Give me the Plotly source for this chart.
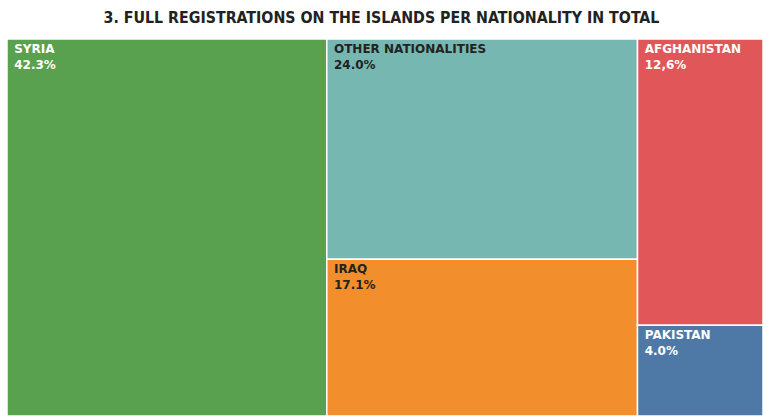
import plotly.graph_objects as go

# Data
nationalities = ["SYRIA", "OTHER NATIONALITIES", "IRAQ", "AFGHANISTAN", "PAKISTAN"]
shares = [42.3, 24.0, 17.1, 12.6, 4.0]
share_labels = ["42.3%", "24.0%", "17.1%", "12,6%", "4.0%"]
column_group = ["g1", "g2", "g2", "g3", "g3"]
colors = ["#59a14f", "#76b7b2", "#f28e2b", "#e15759", "#4e79a7"]
text_colors = ["#ffffff", "#222222", "#222222", "#ffffff", "#ffffff"]

groups = ["g1", "g2", "g3"]
group_values = [sum(v for v, g in zip(shares, column_group) if g == grp) for grp in groups]

NB = "\u00a0"
ids = groups + nationalities
labels = [" "] * len(groups) + nationalities
parents = [""] * len(groups) + column_group
values = group_values + shares
texttemplates = [" "] * len(groups) + [
    "<b>" + NB + "%{label}<br>" + NB + s + "</b>" for s in share_labels
]
marker_colors = ["#ffffff"] * len(groups) + colors
font_colors = ["#ffffff"] * len(groups) + text_colors

fig = go.Figure(
    go.Treemap(
        ids=ids,
        labels=labels,
        parents=parents,
        values=values,
        branchvalues="total",
        sort=True,
        texttemplate=texttemplates,
        textposition="top left",
        textfont=dict(family="DejaVu Sans", size=12, color=font_colors),
        marker=dict(
            colors=marker_colors,
            line=dict(color="#ffffff", width=1.5),
            pad=dict(t=0, l=0, r=0, b=0),
        ),
        tiling=dict(packing="slice-dice", pad=0),
        pathbar=dict(visible=False),
        hoverinfo="label+text",
    )
)

fig.update_layout(
    width=763,
    height=416,
    margin=dict(l=7, r=0, t=39, b=0),
    paper_bgcolor="#ffffff",
    title=dict(
        text="<b>3. FULL REGISTRATIONS ON THE ISLANDS PER NATIONALITY IN TOTAL</b>",
        x=381.5 / 763,
        xanchor="center",
        xref="container",
        y=1 - 17 / 416,
        yref="container",
        yanchor="middle",
        font=dict(family="DejaVu Sans Condensed, DejaVu Sans", size=15.8, color="#222222"),
    ),
    uniformtext=dict(minsize=12, mode="show"),
)

fig.write_html(
    "out.html",
    config={"displayModeBar": False},
    post_script="document.body.style.margin='0';document.body.style.overflow='hidden';",
)
